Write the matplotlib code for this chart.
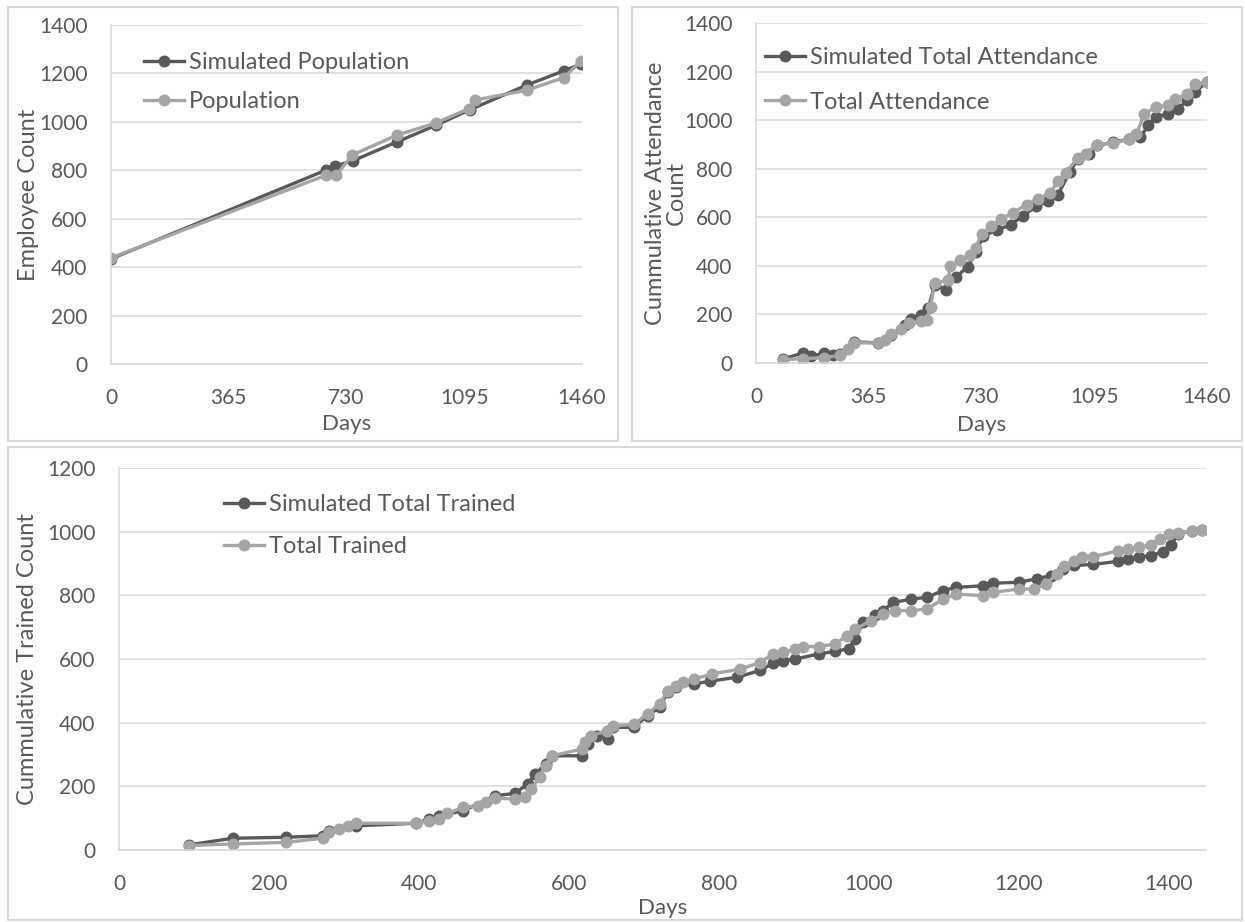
import matplotlib
matplotlib.use("Agg")
import matplotlib.pyplot as plt
from matplotlib.patches import Rectangle

plt.rcParams["font.family"] = ["Lato", "DejaVu Sans"]

# ---------------- data ----------------
# Employee population
pop_sim_days = [0, 665, 695, 749, 886, 1008, 1114, 1289, 1404, 1457]
pop_sim_vals = [434, 800, 818, 839, 917, 986, 1051, 1152, 1211, 1239]
pop_days = [0, 665, 699, 746, 886, 1008, 1111, 1129, 1289, 1404, 1457]
pop_vals = [438, 779, 779, 862, 945, 996, 1055, 1090, 1131, 1183, 1251]

# Cumulative attendance
att_sim_days = [89, 152, 177, 220, 248, 273, 317, 396, 438, 482, 501, 533, 558,
                578, 616, 648, 686, 711, 736, 781, 825, 863, 908, 946, 977, 1016,
                1041, 1079, 1105, 1155, 1206, 1244, 1270, 1295, 1333, 1365, 1396,
                1422, 1460]
att_sim_vals = [18, 41, 27, 41, 32, 39, 87, 83, 114, 155, 183, 197, 225,
                321, 300, 355, 397, 455, 523, 549, 569, 606, 645, 667, 693, 786,
                840, 861, 896, 909, 921, 929, 979, 1013, 1026, 1047, 1081,
                1116, 1158]
att_days = [89, 152, 220, 273, 298, 317, 396, 419, 438, 470, 495, 533, 552, 565,
            578, 622, 629, 660, 692, 711, 730, 762, 794, 832, 876, 914, 952, 977,
            1003, 1041, 1067, 1105, 1155, 1206, 1231, 1257, 1295, 1333, 1358,
            1396, 1422, 1460]
att_vals = [14, 18, 22, 32, 59, 83, 83, 94, 121, 142, 165, 172, 176, 232,
            328, 342, 399, 424, 445, 474, 530, 563, 594, 619, 652, 677, 700, 748,
            783, 845, 861, 899, 906, 921, 941, 1026, 1054, 1061, 1088,
            1108, 1149, 1158]

# Cumulative trained
tr_sim_days = [93, 152, 223, 272, 280, 316, 396, 414, 427, 459, 501, 528, 545,
               555, 569, 577, 618, 626, 637, 652, 659, 687, 705, 721, 732, 743,
               767, 788, 825, 855, 873, 886, 902, 934, 955, 974, 982, 993, 1009,
               1019, 1033, 1057, 1078, 1099, 1117, 1152, 1166, 1200, 1224, 1243,
               1259, 1274, 1299, 1333, 1346, 1360, 1376, 1392, 1403, 1413, 1431,
               1445]
tr_sim_vals = [16, 37, 40, 45, 61, 76, 84, 97, 108, 123, 170, 178, 207,
               238, 270, 296, 296, 332, 359, 348, 385, 386, 422, 448, 496, 511,
               522, 530, 543, 564, 587, 595, 600, 616, 624, 632, 663, 716, 737,
               752, 778, 788, 794, 815, 825, 830, 838, 841, 852, 862,
               883, 894, 897, 907, 915, 920, 925, 936, 957, 993, 1003,
               1006]
tr_days = [93, 152, 223, 272, 280, 294, 305, 316, 396, 414, 427, 438, 459, 479,
           490, 501, 528, 542, 550, 561, 569, 577, 618, 622, 629, 651, 659, 687,
           705, 721, 732, 743, 753, 767, 791, 828, 855, 873, 886, 902, 913, 934,
           955, 971, 982, 1003, 1019, 1035, 1057, 1078, 1099, 1117, 1152, 1166,
           1200, 1221, 1237, 1251, 1261, 1274, 1285, 1299, 1333, 1346, 1360,
           1376, 1389, 1400, 1413, 1431, 1445]
tr_vals = [14, 19, 24, 37, 55, 66, 76, 84, 84, 92, 97, 115, 134, 139,
           150, 163, 160, 165, 191, 228, 264, 296, 317, 338, 359, 374, 390, 395,
           427, 459, 500, 516, 527, 537, 553, 568, 589, 616, 621, 631, 639, 639,
           647, 673, 694, 720, 741, 752, 752, 757, 788, 804, 799, 809,
           820, 820, 836, 867, 893, 909, 919, 921, 940, 946, 951,
           959, 977, 993, 995, 1003, 1006]

# ---------------- style ----------------
DARK = "#595959"
LIGHT = "#A5A5A5"
GRID = "#D9D9D9"
TEXT = "#595959"
FS_TICK = 15
FS_LEG = 17
FS_LAB = 17

W, H = 1245, 922
fig = plt.figure(figsize=(W / 100, H / 100), dpi=100)


def px_axes(left, top, right, bottom):
    return fig.add_axes([left / W, 1 - bottom / H, (right - left) / W, (bottom - top) / H])


def style_axes(ax, xmax, ymax, xticks, yticks):
    ax.set_xlim(0, xmax)
    ax.set_ylim(0, ymax)
    ax.set_xticks(xticks)
    ax.set_yticks(yticks)
    ax.grid(axis="y", color=GRID, linewidth=1.1)
    ax.set_axisbelow(True)
    for side in ("top", "right"):
        ax.spines[side].set_visible(False)
    for side in ("left", "bottom"):
        ax.spines[side].set_color(GRID)
        ax.spines[side].set_linewidth(1.1)
    ax.tick_params(axis="both", length=0, labelsize=FS_TICK, labelcolor=TEXT)
    ax.tick_params(axis="y", pad=17)
    ax.tick_params(axis="x", pad=17)


def draw_series(ax, xs, ys, color, label):
    ax.plot(xs, ys, color=color, lw=2.4, marker="o", markersize=8.6,
            markeredgewidth=0, label=label)


def add_legend(ax, x, y, spacing):
    return ax.legend(loc="upper left", bbox_to_anchor=(x, y), frameon=False,
                     fontsize=FS_LEG, labelcolor=TEXT, handlelength=1.7,
                     handletextpad=0.2, borderpad=0, borderaxespad=0,
                     labelspacing=spacing)


def set_labels(ax, xlab, ylab, xy, yx):
    ax.set_xlabel(xlab, fontsize=FS_LAB - 1, color=TEXT)
    ax.set_ylabel(ylab, fontsize=FS_LAB, color=TEXT, linespacing=1.0)
    ax.xaxis.set_label_coords(0.5, xy)
    ax.xaxis.label.set_va("center")
    ax.yaxis.set_label_coords(yx, 0.5)
    ax.yaxis.label.set_va("center")


# panel frames
for (l, t, r, b) in [(8, 7, 618, 441), (632, 7, 1242, 441), (8, 447, 1242, 920)]:
    fig.patches.append(Rectangle((l / W, 1 - b / H), (r - l) / W, (b - t) / H,
                                 transform=fig.transFigure, fill=False,
                                 edgecolor=GRID, linewidth=1.5))

# population
ax1 = px_axes(111, 25, 582, 364)
style_axes(ax1, 1460, 1400, [0, 365, 730, 1095, 1460], range(0, 1401, 200))
draw_series(ax1, pop_sim_days, pop_sim_vals, DARK, "Simulated Population")
draw_series(ax1, pop_days, pop_vals, LIGHT, "Population")
add_legend(ax1, 0.07, 0.921, 0.78)
set_labels(ax1, "Days", "Employee Count", -0.177, -0.176)

# attendance
ax2 = px_axes(756, 23, 1207, 363)
style_axes(ax2, 1460, 1400, [0, 365, 730, 1095, 1460], range(0, 1401, 200))
draw_series(ax2, att_sim_days, att_sim_vals, DARK, "Simulated Total Attendance")
draw_series(ax2, att_days, att_vals, LIGHT, "Total Attendance")
add_legend(ax2, 0.02, 0.929, 1.0)
set_labels(ax2, "Days", "Cummulative Attendance\nCount", -0.182, -0.2)

# trained
ax3 = px_axes(119, 468, 1206, 850)
style_axes(ax3, 1450, 1200, range(0, 1401, 200), range(0, 1201, 200))
draw_series(ax3, tr_sim_days, tr_sim_vals, DARK, "Simulated Total Trained")
draw_series(ax3, tr_days, tr_vals, LIGHT, "Total Trained")
add_legend(ax3, 0.0966, 0.932, 0.9)
set_labels(ax3, "Days", "Cummulative Trained Count", -0.152, -0.0846)

fig.savefig("out.png", dpi=100, facecolor="white")
